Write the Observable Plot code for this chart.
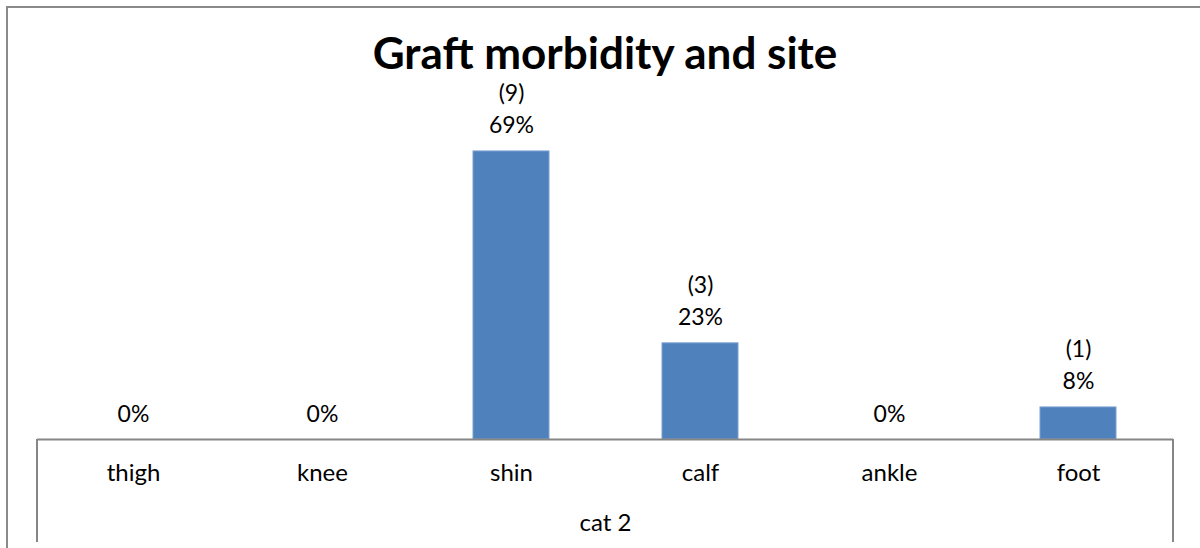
<!DOCTYPE html>
<html>
<head>
<meta charset="utf-8">
<script src="https://cdn.jsdelivr.net/npm/d3@7"></script>
<script src="https://cdn.jsdelivr.net/npm/@observablehq/plot@0.6"></script>
<style>
  html, body { margin: 0; padding: 0; background: #fff; }
  #wrap { position: relative; width: 1200px; height: 548px; overflow: hidden; font-family: Lato, "Open Sans", sans-serif; }
  #frame { position: absolute; left: 6px; top: 6px; width: 1220px; height: 580px; border: 2px solid #8a8a8a; box-sizing: border-box; }
  #title { position: absolute; left: 0; width: 1210px; top: 35px; text-align: center; font-weight: bold; font-size: 44px; color: #000; line-height: 0.8; }
  #chart { position: absolute; left: 0; top: 0; }
</style>
</head>
<body>
<div id="wrap">
  <div id="frame"></div>
  <div id="chart"></div>
  <div id="title">Graft morbidity and site</div>
</div>
<script>
const categories = ["thigh", "knee", "shin", "calf", "ankle", "foot"];
const counts = [0, 0, 9, 3, 0, 1];
const percents = [0, 0, 69.2, 23.1, 0, 7.7];
const percentLabels = ["0%", "0%", "69%", "23%", "0%", "8%"];
const groupLabel = "cat 2";

const data = categories.map((c, i) => ({
  site: c,
  value: percents[i],
  label: counts[i] > 0 ? `(${counts[i]})\n${percentLabels[i]}` : percentLabels[i]
}));

const edges = Plot.ruleY([0], {
  render: (index, scales, values, dim) => {
    const g = d3.create("svg:g");
    const y0 = scales.y(0);
    for (const x of [dim.marginLeft, dim.width - dim.marginRight]) {
      g.append("line").attr("x1", x).attr("x2", x).attr("y1", y0).attr("y2", dim.height - 6)
        .attr("stroke", "#868686").attr("stroke-width", 2);
    }
    return g.node();
  }
});

const chart = Plot.plot({
  width: 1200,
  height: 548,
  marginLeft: 37,
  marginRight: 27,
  marginTop: 106,
  marginBottom: 109,
  style: { fontFamily: "Lato, 'Open Sans', sans-serif", fontSize: "24px", color: "#000", background: "transparent" },
  x: { domain: categories, paddingInner: 0.6, paddingOuter: 0.3, label: null },
  y: { domain: [0, 80], axis: null },
  marks: [
    Plot.barY(data, { x: "site", y: "value", fill: "#4f81bd", stroke: "#7aa0d0", strokeWidth: 1 }),
    Plot.ruleY([0], { stroke: "#868686", strokeWidth: 2 }),
    edges,
    Plot.axisX({ tickSize: 0, tickPadding: 24, fontSize: 24, label: null }),
    Plot.text(data, { x: "site", y: "value", text: "label", lineAnchor: "bottom", dy: -18, lineHeight: 1.42, fontSize: 23, fill: "#000" }),
    Plot.text([groupLabel], { frameAnchor: "bottom", dy: 91, fontSize: 24, fill: "#000" })
  ]
});
document.getElementById("chart").appendChild(chart);
</script>
</body>
</html>
